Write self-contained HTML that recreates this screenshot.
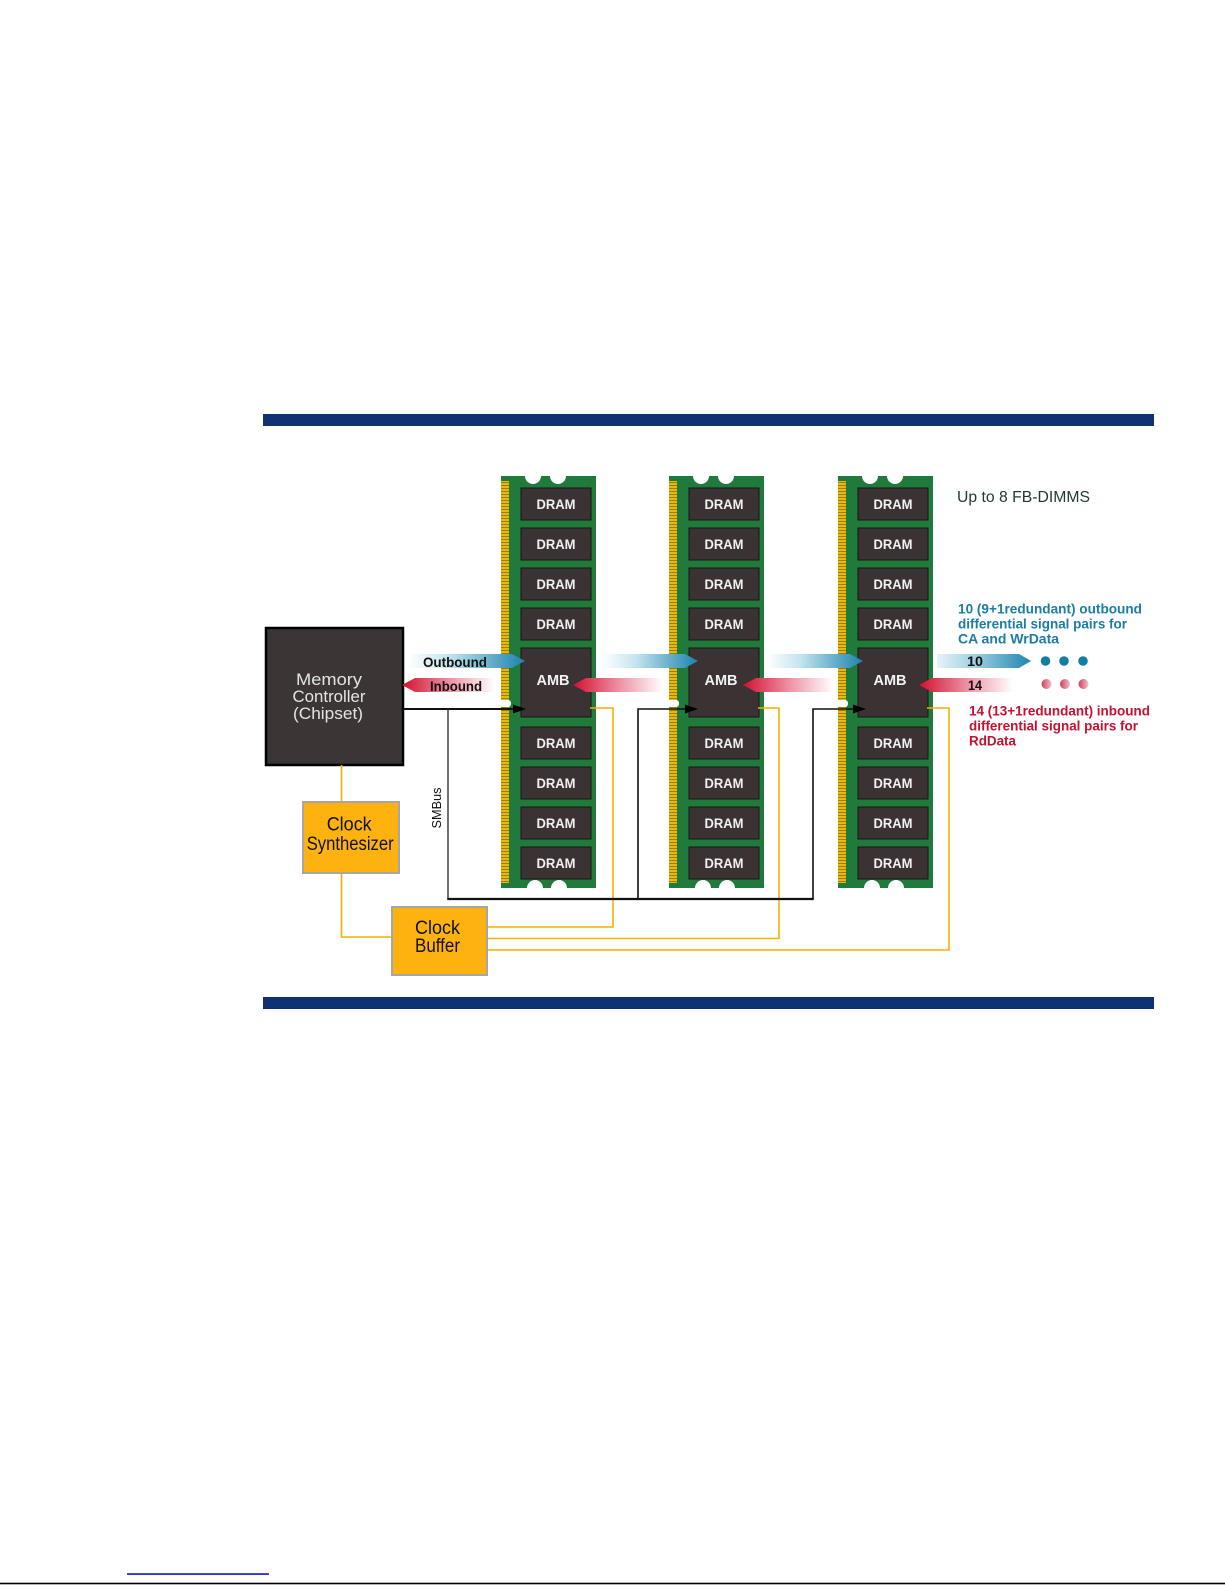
<!DOCTYPE html>
<html><head><meta charset="utf-8">
<style>html,body{margin:0;padding:0;background:#fff;}svg{display:block}</style></head>
<body>
<svg width="1225" height="1585" viewBox="0 0 1225 1585" xmlns="http://www.w3.org/2000/svg" font-family="'Liberation Sans', sans-serif">
<defs>
<pattern id="gold" width="8" height="3" patternUnits="userSpaceOnUse">
 <rect width="8" height="3" fill="#e8b90c"/>
 <rect y="2" width="8" height="1" fill="#a07c08"/>
</pattern>
<linearGradient id="gOut" x1="0" x2="1" y1="0" y2="0">
 <stop offset="0" stop-color="#ffffff"/>
 <stop offset="0.35" stop-color="#c4e4ef"/>
 <stop offset="1" stop-color="#1b82ad"/>
</linearGradient>
<linearGradient id="gOut10" x1="0" x2="1" y1="0" y2="0">
 <stop offset="0" stop-color="#e6f3f8"/>
 <stop offset="0.4" stop-color="#9fd0e2"/>
 <stop offset="1" stop-color="#1f84ae"/>
</linearGradient>
<linearGradient id="gIn" x1="0" x2="1" y1="0" y2="0">
 <stop offset="0" stop-color="#d2102f"/>
 <stop offset="0.5" stop-color="#ec8fa0"/>
 <stop offset="1" stop-color="#ffffff"/>
</linearGradient>
<linearGradient id="pinkDot" x1="0" x2="1" y1="0" y2="0">
 <stop offset="0" stop-color="#cf3f5c"/>
 <stop offset="1" stop-color="#f2c0ca"/>
</linearGradient>
</defs>

<!-- navy bars -->
<rect x="263" y="414" width="891" height="12" fill="#0f3272"/>
<rect x="263" y="997" width="891" height="12" fill="#0f3272"/>

<!-- DIMM 1 -->
<g id="d1">
 <rect x="501" y="476" width="95" height="412" fill="#207a3b"/>
 <rect x="501" y="481" width="8" height="402" fill="url(#gold)"/>
 <circle cx="533" cy="476" r="8" fill="#fff"/>
 <circle cx="558" cy="476" r="8" fill="#fff"/>
 <circle cx="535" cy="888" r="8" fill="#fff"/>
 <circle cx="559" cy="888" r="8" fill="#fff"/>
 <rect x="499" y="700" width="12" height="7" rx="3" fill="#fff"/>
 <g fill="#3b3234" stroke="#1a1516" stroke-width="1">
  <rect x="521" y="488" width="70" height="32"/>
  <rect x="521" y="528" width="70" height="32"/>
  <rect x="521" y="568" width="70" height="32"/>
  <rect x="521" y="608" width="70" height="32"/>
  <rect x="521" y="648" width="70" height="69"/>
  <rect x="521" y="727" width="70" height="32"/>
  <rect x="521" y="767" width="70" height="32"/>
  <rect x="521" y="807" width="70" height="32"/>
  <rect x="521" y="847" width="70" height="32"/>
 </g>
 <g fill="#f2f2f2" font-weight="bold" font-size="13.5" text-anchor="middle">
  <text x="556" y="509" textLength="39" lengthAdjust="spacingAndGlyphs">DRAM</text>
  <text x="556" y="549" textLength="39" lengthAdjust="spacingAndGlyphs">DRAM</text>
  <text x="556" y="589" textLength="39" lengthAdjust="spacingAndGlyphs">DRAM</text>
  <text x="556" y="629" textLength="39" lengthAdjust="spacingAndGlyphs">DRAM</text>
  <text x="553" y="685" font-size="14.5" textLength="33" lengthAdjust="spacingAndGlyphs">AMB</text>
  <text x="556" y="748" textLength="39" lengthAdjust="spacingAndGlyphs">DRAM</text>
  <text x="556" y="788" textLength="39" lengthAdjust="spacingAndGlyphs">DRAM</text>
  <text x="556" y="828" textLength="39" lengthAdjust="spacingAndGlyphs">DRAM</text>
  <text x="556" y="868" textLength="39" lengthAdjust="spacingAndGlyphs">DRAM</text>
 </g>
</g>

<!-- DIMM 2 -->
<g transform="translate(168,0)">
 <rect x="501" y="476" width="95" height="412" fill="#207a3b"/>
 <rect x="501" y="481" width="8" height="402" fill="url(#gold)"/>
 <circle cx="533" cy="476" r="8" fill="#fff"/>
 <circle cx="558" cy="476" r="8" fill="#fff"/>
 <circle cx="535" cy="888" r="8" fill="#fff"/>
 <circle cx="559" cy="888" r="8" fill="#fff"/>
 <rect x="499" y="700" width="12" height="7" rx="3" fill="#fff"/>
 <g fill="#3b3234" stroke="#1a1516" stroke-width="1">
  <rect x="521" y="488" width="70" height="32"/>
  <rect x="521" y="528" width="70" height="32"/>
  <rect x="521" y="568" width="70" height="32"/>
  <rect x="521" y="608" width="70" height="32"/>
  <rect x="521" y="648" width="70" height="69"/>
  <rect x="521" y="727" width="70" height="32"/>
  <rect x="521" y="767" width="70" height="32"/>
  <rect x="521" y="807" width="70" height="32"/>
  <rect x="521" y="847" width="70" height="32"/>
 </g>
 <g fill="#f2f2f2" font-weight="bold" font-size="13.5" text-anchor="middle">
  <text x="556" y="509" textLength="39" lengthAdjust="spacingAndGlyphs">DRAM</text>
  <text x="556" y="549" textLength="39" lengthAdjust="spacingAndGlyphs">DRAM</text>
  <text x="556" y="589" textLength="39" lengthAdjust="spacingAndGlyphs">DRAM</text>
  <text x="556" y="629" textLength="39" lengthAdjust="spacingAndGlyphs">DRAM</text>
  <text x="553" y="685" font-size="14.5" textLength="33" lengthAdjust="spacingAndGlyphs">AMB</text>
  <text x="556" y="748" textLength="39" lengthAdjust="spacingAndGlyphs">DRAM</text>
  <text x="556" y="788" textLength="39" lengthAdjust="spacingAndGlyphs">DRAM</text>
  <text x="556" y="828" textLength="39" lengthAdjust="spacingAndGlyphs">DRAM</text>
  <text x="556" y="868" textLength="39" lengthAdjust="spacingAndGlyphs">DRAM</text>
 </g>
</g>

<!-- DIMM 3 -->
<g transform="translate(337,0)">
 <rect x="501" y="476" width="95" height="412" fill="#207a3b"/>
 <rect x="501" y="481" width="8" height="402" fill="url(#gold)"/>
 <circle cx="533" cy="476" r="8" fill="#fff"/>
 <circle cx="558" cy="476" r="8" fill="#fff"/>
 <circle cx="535" cy="888" r="8" fill="#fff"/>
 <circle cx="559" cy="888" r="8" fill="#fff"/>
 <rect x="499" y="700" width="12" height="7" rx="3" fill="#fff"/>
 <g fill="#3b3234" stroke="#1a1516" stroke-width="1">
  <rect x="521" y="488" width="70" height="32"/>
  <rect x="521" y="528" width="70" height="32"/>
  <rect x="521" y="568" width="70" height="32"/>
  <rect x="521" y="608" width="70" height="32"/>
  <rect x="521" y="648" width="70" height="69"/>
  <rect x="521" y="727" width="70" height="32"/>
  <rect x="521" y="767" width="70" height="32"/>
  <rect x="521" y="807" width="70" height="32"/>
  <rect x="521" y="847" width="70" height="32"/>
 </g>
 <g fill="#f2f2f2" font-weight="bold" font-size="13.5" text-anchor="middle">
  <text x="556" y="509" textLength="39" lengthAdjust="spacingAndGlyphs">DRAM</text>
  <text x="556" y="549" textLength="39" lengthAdjust="spacingAndGlyphs">DRAM</text>
  <text x="556" y="589" textLength="39" lengthAdjust="spacingAndGlyphs">DRAM</text>
  <text x="556" y="629" textLength="39" lengthAdjust="spacingAndGlyphs">DRAM</text>
  <text x="553" y="685" font-size="14.5" textLength="33" lengthAdjust="spacingAndGlyphs">AMB</text>
  <text x="556" y="748" textLength="39" lengthAdjust="spacingAndGlyphs">DRAM</text>
  <text x="556" y="788" textLength="39" lengthAdjust="spacingAndGlyphs">DRAM</text>
  <text x="556" y="828" textLength="39" lengthAdjust="spacingAndGlyphs">DRAM</text>
  <text x="556" y="868" textLength="39" lengthAdjust="spacingAndGlyphs">DRAM</text>
 </g>
</g>

<!-- Memory controller -->
<rect x="266" y="628" width="137" height="137" fill="#3b3535" stroke="#000" stroke-width="2.5"/>
<g fill="#e4e4e4" font-size="17" text-anchor="middle">
 <text x="329" y="685" textLength="66" lengthAdjust="spacingAndGlyphs">Memory</text>
 <text x="329" y="702" textLength="73" lengthAdjust="spacingAndGlyphs">Controller</text>
 <text x="328" y="719" textLength="70" lengthAdjust="spacingAndGlyphs">(Chipset)</text>
</g>

<!-- Orange clock lines -->
<g fill="none" stroke="#f5b000" stroke-width="1.6">
 <line x1="341.5" y1="765" x2="341.5" y2="802"/>
 <polyline points="341.5,873 341.5,937 392,937"/>
 <polyline points="487,927 613,927 613,708 590,708"/>
 <polyline points="487,938.5 779,938.5 779,708 758,708"/>
 <polyline points="487,950 949,950 949,708 927,708"/>
</g>

<!-- Clock synthesizer / buffer -->
<rect x="303" y="802" width="96" height="71" fill="#fdb20f" stroke="#a6a6a6" stroke-width="2"/>
<rect x="392" y="907" width="95" height="68" fill="#fdb20f" stroke="#a6a6a6" stroke-width="2"/>
<g fill="#111" font-size="19">
 <text x="326.7" y="830.5" textLength="45" lengthAdjust="spacingAndGlyphs">Clock</text>
 <text x="306.7" y="850" textLength="87" lengthAdjust="spacingAndGlyphs">Synthesizer</text>
 <text x="415" y="934" textLength="45" lengthAdjust="spacingAndGlyphs">Clock</text>
 <text x="415" y="952" textLength="45" lengthAdjust="spacingAndGlyphs">Buffer</text>
</g>

<!-- SMBus black lines -->
<g fill="none" stroke="#111">
 <line x1="403" y1="709" x2="514" y2="709" stroke-width="2"/>
 <line x1="448" y1="709" x2="448" y2="899" stroke="#333" stroke-width="1.4"/>
 <line x1="447.3" y1="899" x2="813.7" y2="899" stroke-width="2.2"/>
 <polyline points="638,899 638,709 686,709" stroke-width="1.6"/>
 <polyline points="813,899 813,709 855,709" stroke-width="1.6"/>
</g>
<g fill="#000">
 <polygon points="513,704.5 526,709 513,713.5"/>
 <polygon points="685,704.5 698,709 685,713.5"/>
 <polygon points="853,704.5 866,709 853,713.5"/>
</g>
<text transform="translate(441,808) rotate(-90)" text-anchor="middle" font-size="13" fill="#111" textLength="41" lengthAdjust="spacingAndGlyphs">SMBus</text>

<!-- Outbound arrows -->
<polygon points="408,654 512,654 525,661 512,668 408,668" fill="url(#gOut)"/>
<polygon points="603,654 685,654 698,661 685,668 603,668" fill="url(#gOut)"/>
<polygon points="767,654 850,654 863,661 850,668 767,668" fill="url(#gOut)"/>
<polygon points="937,654 1019,654 1031,661 1019,668 937,668" fill="url(#gOut10)"/>
<!-- Inbound arrows -->
<polygon points="402,685 415,678 495,678 495,692 415,692" fill="url(#gIn)"/>
<polygon points="573,685 586,678 663,678 663,692 586,692" fill="url(#gIn)"/>
<polygon points="743,685 756,678 833,678 833,692 756,692" fill="url(#gIn)"/>
<polygon points="919,685 932,678 1013,678 1013,692 932,692" fill="url(#gIn)"/>

<g font-weight="bold" fill="#111">
 <text x="423" y="667" font-size="13.5" textLength="64" lengthAdjust="spacingAndGlyphs">Outbound</text>
 <text x="430" y="691" font-size="13.5" textLength="52" lengthAdjust="spacingAndGlyphs">Inbound</text>
 <text x="967" y="666" font-size="14" textLength="16" lengthAdjust="spacingAndGlyphs">10</text>
 <text x="968" y="690" font-size="14" textLength="14" lengthAdjust="spacingAndGlyphs">14</text>
</g>

<!-- dots -->
<g fill="#137f9e">
 <circle cx="1045.5" cy="661" r="4.8"/>
 <circle cx="1064" cy="661" r="4.8"/>
 <circle cx="1083" cy="661" r="4.8"/>
</g>
<g fill="url(#pinkDot)">
 <circle cx="1046.5" cy="684" r="5"/>
 <circle cx="1065" cy="684" r="5"/>
 <circle cx="1083.5" cy="684" r="5"/>
</g>

<!-- annotations -->
<text x="957" y="502" font-size="16" fill="#1d3a2e" textLength="133" lengthAdjust="spacingAndGlyphs">Up to 8 FB-DIMMS</text>
<g fill="#1a7da6" font-size="13.5" font-weight="bold">
 <text x="958" y="613.5" textLength="184" lengthAdjust="spacingAndGlyphs">10 (9+1redundant) outbound</text>
 <text x="958" y="628.5" textLength="169" lengthAdjust="spacingAndGlyphs">differential signal pairs for</text>
 <text x="958" y="643.5" textLength="101" lengthAdjust="spacingAndGlyphs">CA and WrData</text>
</g>
<g fill="#c8102e" font-size="13.5" font-weight="bold">
 <text x="969" y="715.5" textLength="181" lengthAdjust="spacingAndGlyphs">14 (13+1redundant) inbound</text>
 <text x="969" y="730.5" textLength="169" lengthAdjust="spacingAndGlyphs">differential signal pairs for</text>
 <text x="969" y="745.5" textLength="47" lengthAdjust="spacingAndGlyphs">RdData</text>
</g>

<!-- page footer lines -->
<rect x="127" y="1573.3" width="142" height="1.5" fill="#0000c8"/>
<rect x="0" y="1582.7" width="1225" height="1.6" fill="#000"/>
</svg>
</body></html>
